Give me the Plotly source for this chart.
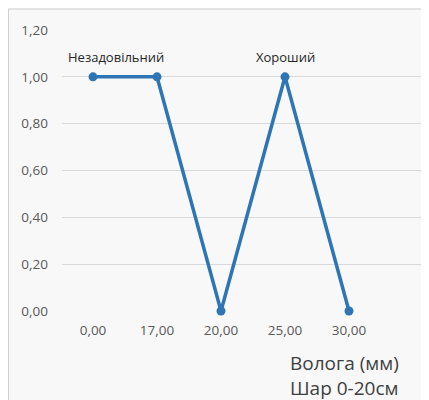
import plotly.graph_objects as go

categories = ["0,00", "17,00", "20,00", "25,00", "30,00"]
values = [1.0, 1.0, 0.0, 1.0, 0.0]
point_labels = ["Незадовільний", "", "", "Хороший", ""]
y_ticks = [0, 0.2, 0.4, 0.6, 0.8, 1.0, 1.2]
y_ticktext = ["0,00", "0,20", "0,40", "0,60", "0,80", "1,00", "1,20"]
axis_title_lines = ["Волога (мм)", "Шар 0-20см"]

# page body has an 8px margin; figure fills the rest of the 429x400 window
W, H = 421, 392
L, R, T, B = 54, 0, 22, 89
pw, ph = W - L - R, H - T - B
step = 64  # px per category

xs = list(range(len(categories)))
color = "#2E75B6"
font = "Open Sans, Noto Sans, sans-serif"

def px_x(p):
    return (p - L) / pw

def px_y(p):
    return (T + ph - p) / ph

fig = go.Figure()
fig.add_trace(go.Scatter(
    x=xs, y=values, mode="lines+markers",
    line=dict(color=color, width=3.5),
    marker=dict(color=color, size=9),
    cliponaxis=False, showlegend=False, hoverinfo="skip",
))

for i, lab in enumerate(point_labels):
    if lab:
        fig.add_annotation(
            x=xs[i], y=values[i], text=lab, showarrow=False,
            yanchor="bottom", yshift=9, xshift=23 if i == 0 else 0,
            font=dict(family=font, size=13, color="#262626"),
        )

for j, (line, cy) in enumerate(zip(axis_title_lines, [355, 380])):
    fig.add_annotation(
        xref="paper", yref="paper", x=px_x(280), y=px_y(cy),
        xanchor="left", yanchor="middle",
        text=line, showarrow=False,
        font=dict(family=font, size=19, color="#404040"),
    )

# chart frame edges (left and top)
fig.add_shape(type="line", xref="paper", yref="paper", layer="below",
              x0=px_x(0.5), x1=px_x(0.5), y0=px_y(H + 2), y1=px_y(1),
              line=dict(color="#d0d0d0", width=1))
fig.add_shape(type="line", xref="paper", yref="paper", layer="below",
              x0=px_x(0.5), x1=px_x(W + 2), y0=px_y(1), y1=px_y(1),
              line=dict(color="#d0d0d0", width=1))

fig.update_layout(
    width=W, height=H,
    margin=dict(l=L, r=R, t=T, b=B),
    paper_bgcolor="#f8f8f8", plot_bgcolor="rgba(0,0,0,0)",
    font=dict(family=font, size=13, color="#595959"),
)
fig.update_xaxes(
    range=[-31 / step, (W - L - 31) / step - 31 / step + 31 / step],
    tickvals=xs, ticktext=categories, showgrid=False, zeroline=False,
    showline=False, ticks="", ticklabelstandoff=9,
    tickfont=dict(family=font, size=13.5, color="#595959"),
)
fig.update_xaxes(range=[-31 / step, (W - L - 31) / step])
fig.update_yaxes(
    range=[0, 1.2], tickvals=y_ticks, ticktext=y_ticktext,
    showgrid=True, gridcolor="#d9d9d9", gridwidth=1, zeroline=False,
    showline=False, ticks="", ticklabelstandoff=13,
    tickfont=dict(family=font, size=13.5, color="#595959"),
)

fig.write_html("out.html")
